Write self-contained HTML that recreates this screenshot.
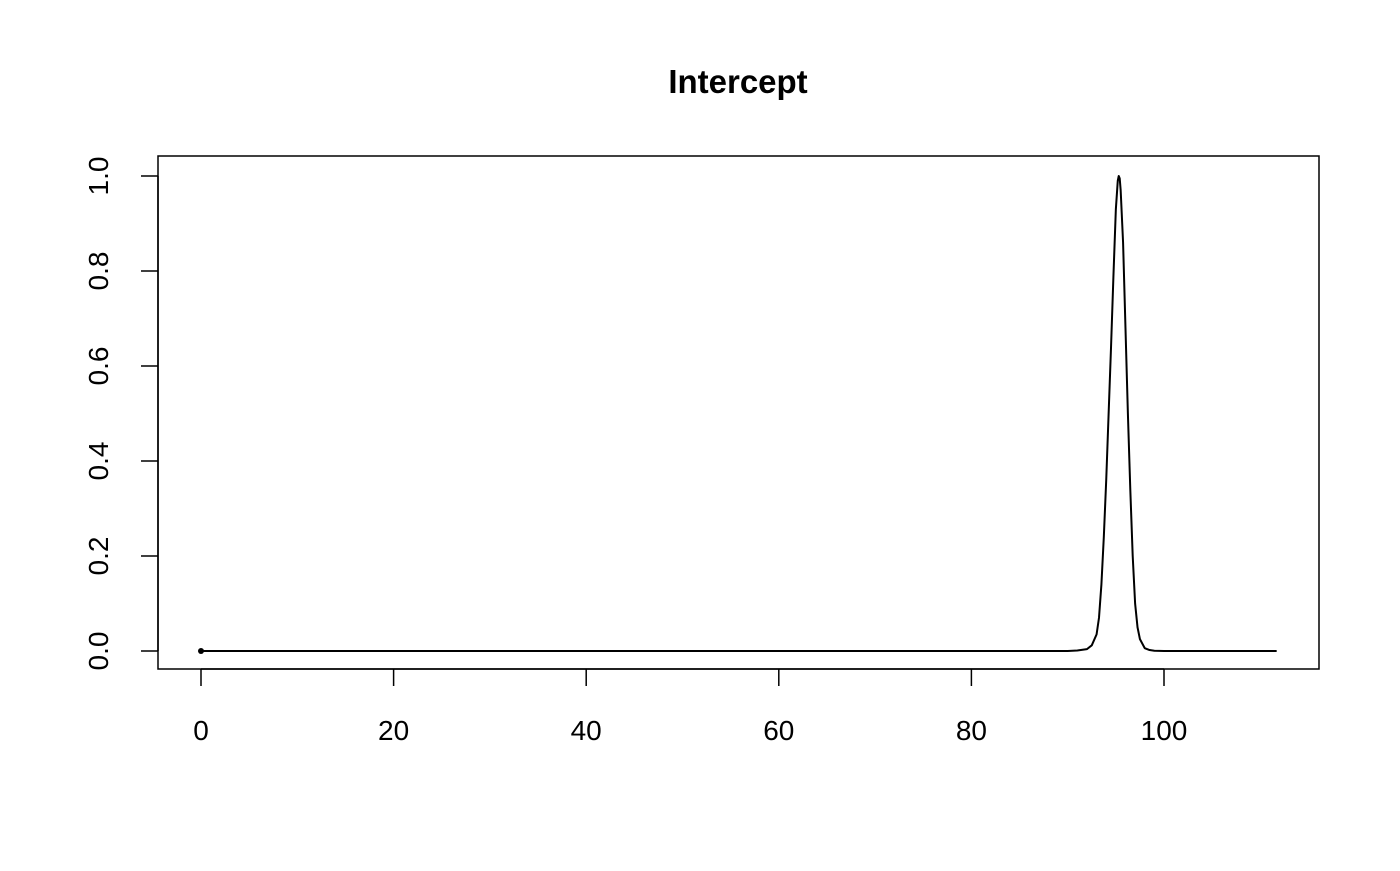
<!DOCTYPE html>
<html><head><meta charset="utf-8"><style>
body{margin:0;background:#fff;}
svg text{font-family:"Liberation Sans",Arial,sans-serif;fill:#000;}
</style></head><body>
<svg id="chart" width="1400" height="866" xmlns="http://www.w3.org/2000/svg">
<text x="738" y="93" text-anchor="middle" font-size="33" font-weight="bold">Intercept</text>
<rect x="158" y="156" width="1161" height="513" fill="none" stroke="#000" stroke-width="1.5"/>
<g id="xaxis"></g>
<g id="yaxis"></g>
<g id="series"></g>
</svg>
<script>
const xTicks=[0,20,40,60,80,100];
const yTicks=[0.0,0.2,0.4,0.6,0.8,1.0];
const yTickLabels=["0.0","0.2","0.4","0.6","0.8","1.0"];
const xValues=[0,90,91,92,92.5,93,93.25,93.5,93.75,94,94.25,94.5,94.75,95,95.2,95.3,95.4,95.5,95.75,96,96.25,96.5,96.75,97,97.25,97.5,98,98.5,99,100,111.7];
const yValues=[0,0,0.001,0.004,0.012,0.035,0.07,0.14,0.24,0.36,0.5,0.64,0.79,0.93,0.99,1.0,0.995,0.97,0.86,0.68,0.5,0.34,0.2,0.1,0.05,0.025,0.006,0.002,0.0005,0,0];
const NS='http://www.w3.org/2000/svg';
const sx=v=>201+v*9.63;
const sy=v=>651-v*475;
function mk(t,a,p){const e=document.createElementNS(NS,t);for(const k in a)e.setAttribute(k,a[k]);p.appendChild(e);return e;}
const xa=document.getElementById('xaxis'),ya=document.getElementById('yaxis'),se=document.getElementById('series');
mk('line',{x1:sx(xTicks[0]),x2:sx(xTicks[xTicks.length-1]),y1:669,y2:669,stroke:'#000','stroke-width':1.5},xa);
xTicks.forEach(t=>{
  const l=mk('line',{x1:sx(t),x2:sx(t),y1:669,y2:686,stroke:'#000','stroke-width':1.5},xa);
  
  
  const tx=mk('text',{x:sx(t),y:740,'text-anchor':'middle','font-size':28},xa);
  tx.textContent=t;
  
  
});
mk('line',{x1:158,x2:158,y1:sy(yTicks[0]),y2:sy(yTicks[yTicks.length-1]),stroke:'#000','stroke-width':1.5},ya);
yTicks.forEach((t,i)=>{
  const l=mk('line',{x1:141,x2:158,y1:sy(t),y2:sy(t),stroke:'#000','stroke-width':1.5},ya);
  
  
  const y=sy(t);
  const tx=mk('text',{x:108,y:y,'text-anchor':'middle','font-size':28,transform:`rotate(-90 108 ${y})`},ya);
  tx.textContent=yTickLabels[i];
  
  
});
const pts=xValues.map((x,i)=>sx(x)+','+sy(yValues[i])).join(' ');
const pl=mk('polyline',{points:pts,fill:'none',stroke:'#000','stroke-width':2,'stroke-linejoin':'round'},se);


const c=mk('circle',{cx:sx(xValues[0]),cy:sy(yValues[0]),r:3,fill:'#000'},se);


</script>
</body></html>
